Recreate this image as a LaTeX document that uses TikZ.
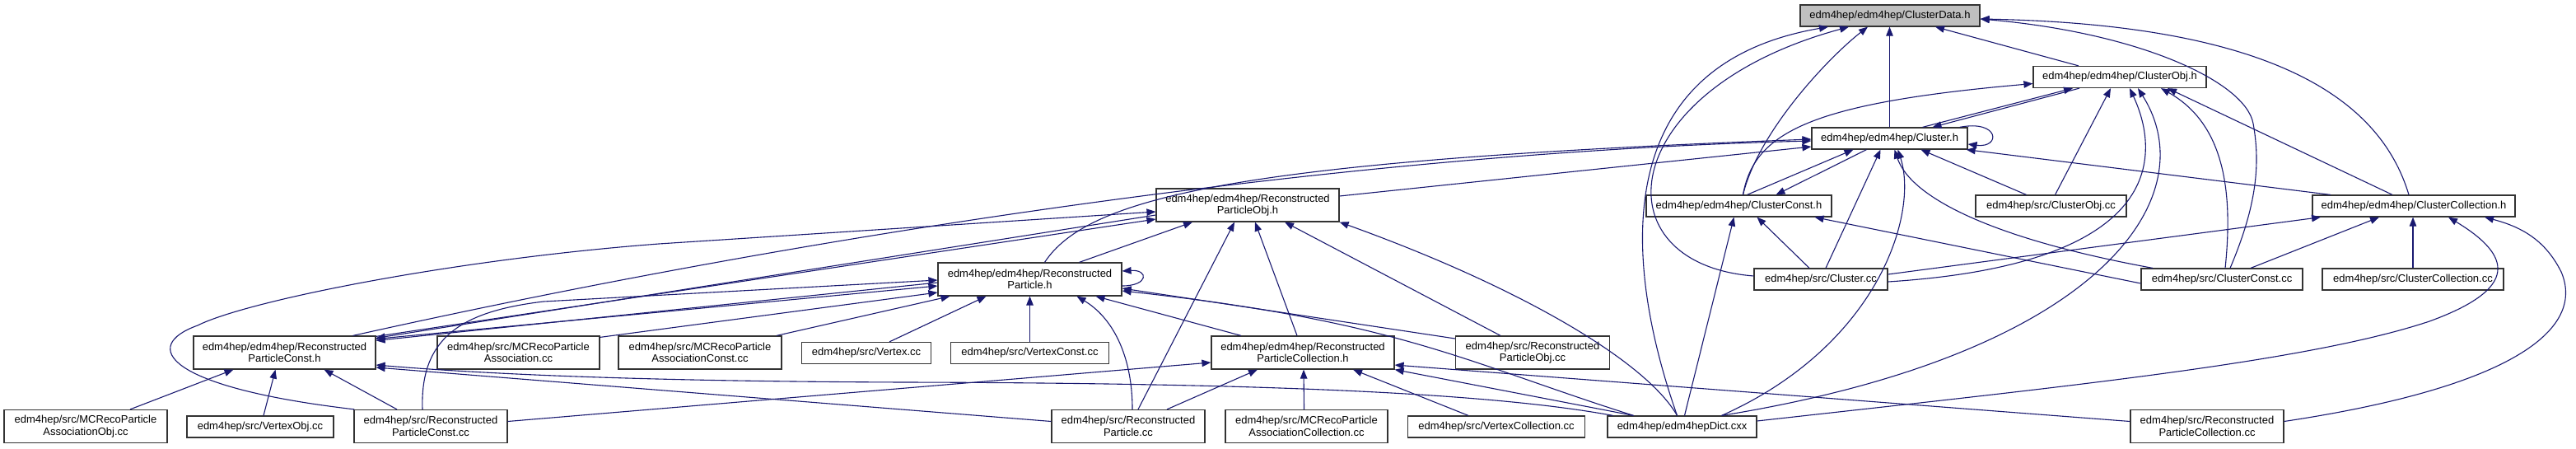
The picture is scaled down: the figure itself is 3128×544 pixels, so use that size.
\documentclass[tikz,border=0pt]{standalone}
\usepackage{fontspec}
\setmainfont{Liberation Sans}
\usetikzlibrary{arrows.meta}
\definecolor{edgeblue}{HTML}{191970}
\definecolor{hlgray}{HTML}{BFBFBF}
\begin{document}
\begin{tikzpicture}[x=1pt,y=-1pt,
  box/.style={draw=black!80, line width=1.2pt, fill=white, inner sep=0pt, align=center,
    font=\fontsize{13}{14.5}\selectfont, text=black},
  one/.style={box, minimum height=26pt},
  two/.style={box, minimum height=40pt},
  e/.style={draw=edgeblue, line width=1.1pt, -{Triangle[length=11pt,width=8.5pt]}}]
\fill[white] (0,0) rectangle (3128,544);
\useasboundingbox (0,0) rectangle (3128,544);

% nodes
\node[one, minimum width=218pt, fill=hlgray] (cd) at (2295,19) {edm4hep/edm4hep/ClusterData.h};
\node[one, minimum width=210pt] (cobj) at (2574,93.5) {edm4hep/edm4hep/ClusterObj.h};
\node[one, minimum width=189pt] (ch) at (2294.5,168) {edm4hep/edm4hep/Cluster.h};
\node[one, minimum width=225pt] (cconst) at (2111.5,250) {edm4hep/edm4hep/ClusterConst.h};
\node[one, minimum width=183pt] (cobjcc) at (2490.5,250) {edm4hep/src/ClusterObj.cc};
\node[one, minimum width=246pt] (ccoll) at (2931,250) {edm4hep/edm4hep/ClusterCollection.h};
\node[two, minimum width=222pt] (rpobj) at (1515,249) {edm4hep/edm4hep/Reconstructed\\ParticleObj.h};
\node[two, minimum width=223pt] (rp) at (1250.5,339) {edm4hep/edm4hep/Reconstructed\\Particle.h};
\node[one, minimum width=162pt] (ccc) at (2211,339) {edm4hep/src/Cluster.cc};
\node[one, minimum width=196pt] (cconstcc) at (2698,339) {edm4hep/src/ClusterConst.cc};
\node[one, minimum width=220pt] (ccollcc) at (2930,339) {edm4hep/src/ClusterCollection.cc};
\node[two, minimum width=221pt] (rpconst) at (345.5,428) {edm4hep/edm4hep/Reconstructed\\ParticleConst.h};
\node[two, minimum width=197pt] (mcra) at (629.5,428) {edm4hep/src/MCRecoParticle\\Association.cc};
\node[two, minimum width=198pt] (mcrac) at (850,428) {edm4hep/src/MCRecoParticle\\AssociationConst.cc};
\node[one, minimum width=157pt] (vtx) at (1052,428.5) {edm4hep/src/Vertex.cc};
\node[one, minimum width=192pt] (vtxc) at (1250.5,428.5) {edm4hep/src/VertexConst.cc};
\node[two, minimum width=222pt] (rpcoll) at (1582,428) {edm4hep/edm4hep/Reconstructed\\ParticleCollection.h};
\node[two, minimum width=187pt] (rpobjcc) at (1861,428) {edm4hep/src/Reconstructed\\ParticleObj.cc};
\node[two, minimum width=198pt] (mcrao) at (104,517.5) {edm4hep/src/MCRecoParticle\\AssociationObj.cc};
\node[one, minimum width=178pt] (vtxo) at (316,518) {edm4hep/src/VertexObj.cc};
\node[two, minimum width=186pt] (rpconstcc) at (523,517.5) {edm4hep/src/Reconstructed\\ParticleConst.cc};
\node[two, minimum width=186pt] (rpcc) at (1370,517.5) {edm4hep/src/Reconstructed\\Particle.cc};
\node[two, minimum width=197pt] (mcracoll) at (1586.5,517.5) {edm4hep/src/MCRecoParticle\\AssociationCollection.cc};
\node[one, minimum width=215pt] (vtxcoll) at (1817,518) {edm4hep/src/VertexCollection.cc};
\node[one, minimum width=181pt] (dict) at (2042.5,518) {edm4hep/edm4hepDict.cxx};
\node[two, minimum width=186pt] (rpcollcc) at (2680,517.5) {edm4hep/src/Reconstructed\\ParticleCollection.cc};

% edges into ClusterData.h
\draw[e] ([xshift=-6pt]dict.north) .. controls (1975,330) and (1945,80) .. ([xshift=-75pt]cd.south);
\draw[e] ([yshift=4pt]ccc.west) .. controls (1940,320) and (1960,110) .. ([xshift=-50pt]cd.south);
\draw[e] ([xshift=5pt]cconst.north) .. controls (2135,160) and (2220,70) .. ([xshift=-27pt]cd.south);
\draw[e] (ch.north) -- (ch.north |- cd.south);
\draw[e] ([xshift=-50pt]cobj.north) -- ([xshift=55pt]cd.south);
\draw[e] ([xshift=10pt]cconstcc.north) .. controls (2740,250) and (2745,200) .. (2736,150) .. controls (2727,100) and (2600,40) .. ([yshift=-4pt]cd.east);
\draw[e] ([xshift=-6pt]ccoll.north) .. controls (2890,120) and (2760,30) .. ([yshift=-4pt]cd.east);

% edges into ClusterObj.h
\draw[e] ([xshift=5pt]cconst.north) .. controls (2130,160) and (2200,125) .. ([yshift=-8pt]cobj.west);
\draw[e] ([xshift=40pt]ch.north) -- ([xshift=-57pt]cobj.south);
\draw[e] ([xshift=5pt]cobjcc.north) -- ([xshift=-11pt]cobj.south);
\draw[e] ([yshift=-3pt]ccc.east) .. controls (2640,320) and (2620,180) .. ([xshift=12pt]cobj.south);
\draw[e] ([xshift=48pt]dict.north) .. controls (2550,430) and (2680,240) .. ([xshift=22pt]cobj.south);
\draw[e] ([xshift=4pt]cconstcc.north) .. controls (2712,230) and (2700,150) .. ([xshift=50pt]cobj.south);
\draw[e] ([xshift=-26pt]ccoll.north) -- ([xshift=58pt]cobj.south);

% edges into Cluster.h
\draw[e] ([xshift=-49pt]cobj.south) -- ([xshift=52pt]ch.north);
\draw[e] ([xshift=83pt]rpconst.north) .. controls (1000,280) and (1650,185) .. ([yshift=-3pt]ch.west);
\draw[e] ([xshift=18pt]rp.north) .. controls (1320,240) and (1500,195) .. ([yshift=-1pt]ch.west);
\draw[e] ([yshift=11pt]rpobj.east) -- ([yshift=-10pt]ch.west);
\draw[e] ([xshift=10pt]cconst.north) -- ([xshift=-44pt]ch.south);
\draw[e] ([xshift=6pt]ccc.north) -- ([xshift=-11pt]ch.south);
\draw[e] ([xshift=48pt]dict.north) .. controls (2280,420) and (2330,260) .. ([xshift=10pt]ch.south);
\draw[e] ([xshift=-84pt]cconstcc.north) .. controls (2420,290) and (2320,240) .. ([xshift=6pt]ch.south);
\draw[e] ([xshift=-30pt]cobjcc.north) -- ([xshift=38pt]ch.south);
\draw[e] ([xshift=-101pt]ccoll.north) -- ([xshift=-2pt]ch.south east);
\draw[e] ([xshift=-10pt]ch.north east) .. controls (2428,145) and (2430,180) .. ([yshift=-7pt]ch.east);

% edges into ClusterConst.h
\draw[e] ([xshift=-28pt]ch.south) -- ([xshift=45pt]cconst.north);
\draw[e] ([xshift=3pt]dict.north) -- ([xshift=-6pt]cconst.south);
\draw[e] ([xshift=-14pt]ccc.north) -- ([xshift=22pt]cconst.south);
\draw[e] ([yshift=-5pt]cconstcc.west) -- ([xshift=92pt]cconst.south);

% edges into ClusterCollection.h
\draw[e] ([yshift=6pt]ccc.east) -- ([xshift=-113pt]ccoll.south);
\draw[e] ([xshift=35pt]cconstcc.north) -- ([xshift=-42pt]ccoll.south);
\draw[e] (ccollcc.north) -- (ccollcc.north |- ccoll.south);
\draw[e] ([yshift=7pt]dict.east) .. controls (2500,470) and (2800,440) .. (2950,390) .. controls (3060,350) and (3050,310) .. ([xshift=42pt]ccoll.south);
\draw[e] ([yshift=6pt]rpcollcc.east) .. controls (3050,470) and (3140,400) .. (3110,330) .. controls (3090,290) and (3060,275) .. ([xshift=86pt]ccoll.south);

% edges into ReconstructedParticleObj.h
\draw[e] ([xshift=1pt]rpconstcc.north west) .. controls (200,470) and (170,420) .. (240,395) .. controls (300,365) and (550,315) .. (800,296) -- ([yshift=-8pt]rpobj.west);
\draw[e] ([yshift=-1pt]rpconst.north east) -- ([yshift=-17pt]rpobj.west);
\draw[e] ([xshift=60pt]rp.north) -- ([xshift=-67pt]rpobj.south);
\draw[e] ([xshift=12pt]rpcc.north) -- ([xshift=-16pt]rpobj.south);
\draw[e] ([xshift=-7pt]rpcoll.north) -- ([xshift=9pt]rpobj.south);
\draw[e] ([xshift=-39pt]rpobjcc.north) -- ([xshift=45pt]rpobj.south);
\draw[e] ([xshift=-6pt]dict.north) .. controls (2000,440) and (1850,350) .. (rpobj.south east);

% edges into ReconstructedParticle.h
\draw[e] ([yshift=-4pt]rpconst.north east) -- ([yshift=-8pt]rp.west);
\draw[e] ([yshift=-2pt]mcra.north east) -- ([yshift=-16pt]rp.west);
\draw[e] ([xshift=-10pt]rpconstcc.north) .. controls (510,410) and (560,378) .. (660,366) -- ([yshift=-1pt]rp.west);
\draw[e] ([xshift=93pt]mcrac.north) -- ([xshift=-97pt]rp.south);
\draw[e] ([xshift=28pt]vtx.north) -- ([xshift=-53pt]rp.south);
\draw[e] (vtxc.north) -- (rp.south);
\draw[e] ([xshift=5pt]rpcc.north) .. controls (1375,430) and (1350,385) .. ([xshift=57pt]rp.south);
\draw[e] ([xshift=-75pt]rpcoll.north) -- ([xshift=80pt]rp.south);
\draw[e] ([yshift=17pt]rpobjcc.west) -- ([yshift=-11pt]rp.east);
\draw[e] ([xshift=-59pt]dict.north) .. controls (1780,440) and (1700,390) .. ([yshift=-14pt]rp.east);
\draw[e] ([yshift=-8pt]rp.east) .. controls (1395,347) and (1395,327) .. ([yshift=10pt]rp.east);

% edges into ReconstructedParticleConst.h
\draw[e] ([yshift=-12pt]rpobj.west) -- ([yshift=-3pt]rpconst.north east);
\draw[e] ([yshift=-4pt]rp.west) -- ([yshift=-6pt]rpconst.north east);
\draw[e] ([xshift=54pt]mcrao.north) -- ([xshift=-62pt]rpconst.south);
\draw[e] ([xshift=4pt]vtxo.north) -- ([xshift=-11pt]rpconst.south);
\draw[e] ([xshift=-41pt]rpconstcc.north) -- ([xshift=48pt]rpconst.south);
\draw[e] ([xshift=-84pt]dict.north) .. controls (1800,475) and (1500,465) .. (1100,464) .. controls (800,463) and (600,455) .. ([yshift=-15pt]rpconst.east);
\draw[e] ([yshift=6pt]rpcc.west) -- ([yshift=-18pt]rpconst.east);

% edges into ReconstructedParticleCollection.h
\draw[e] ([yshift=6pt]rpconstcc.east) -- ([yshift=-12pt]rpcoll.west);
\draw[e] ([xshift=47pt]rpcc.north) -- ([xshift=-55pt]rpcoll.south);
\draw[e] ([xshift=-3pt]mcracoll.north) -- ([xshift=1pt]rpcoll.south);
\draw[e] ([xshift=-34pt]vtxcoll.north) -- ([xshift=61pt]rpcoll.south);
\draw[e] ([yshift=6pt]rpcollcc.west) -- ([yshift=-15pt]rpcoll.east);
\draw[e] ([xshift=-59pt]dict.north) -- (rpcoll.south east);
\end{tikzpicture}
\end{document}
